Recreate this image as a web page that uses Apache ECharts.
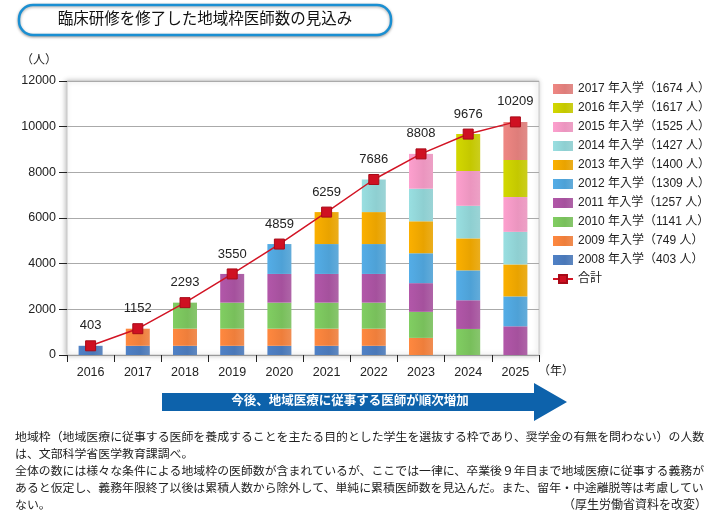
<!DOCTYPE html>
<html>
<head>
<meta charset="utf-8">
<script src="https://cdn.jsdelivr.net/npm/echarts@6/dist/echarts.min.js"></script>
<style>
  html, body { margin: 0; padding: 0; background: #fff; }
  #chart { width: 712px; height: 519px; }
</style>
</head>
<body>
<div id="chart"></div>
<script>
// 年（横軸）
var years = ['2016', '2017', '2018', '2019', '2020', '2021', '2022', '2023', '2024', '2025'];
// 入学年度ごとの人数（義務年限中のみ）
var c2008 = [403, 403, 403, 403, 403, 403, 403, '-', '-', '-'];
var c2009 = ['-', 749, 749, 749, 749, 749, 749, 749, '-', '-'];
var c2010 = ['-', '-', 1141, 1141, 1141, 1141, 1141, 1141, 1141, '-'];
var c2011 = ['-', '-', '-', 1257, 1257, 1257, 1257, 1257, 1257, 1257];
var c2012 = ['-', '-', '-', '-', 1309, 1309, 1309, 1309, 1309, 1309];
var c2013 = ['-', '-', '-', '-', '-', 1400, 1400, 1400, 1400, 1400];
var c2014 = ['-', '-', '-', '-', '-', '-', 1427, 1427, 1427, 1427];
var c2015 = ['-', '-', '-', '-', '-', '-', '-', 1525, 1525, 1525];
var c2016 = ['-', '-', '-', '-', '-', '-', '-', '-', 1617, 1617];
var c2017 = ['-', '-', '-', '-', '-', '-', '-', '-', '-', 1674];
// 合計
var totals = [403, 1152, 2293, 3550, 4859, 6259, 7686, 8808, 9676, 10209];
// 凡例名
var cohortNames = [
    '2008 年入学（403 人）', '2009 年入学（749 人）', '2010 年入学（1141 人）',
    '2011 年入学（1257 人）', '2012 年入学（1309 人）', '2013 年入学（1400 人）',
    '2014 年入学（1427 人）', '2015 年入学（1525 人）', '2016 年入学（1617 人）',
    '2017 年入学（1674 人）'
];
var totalName = '合計';

var cohortData = [c2008, c2009, c2010, c2011, c2012, c2013, c2014, c2015, c2016, c2017];
var cohortColors = ['#4a78b8', '#ee7e3b', '#78bf5b', '#a5519d', '#4ea1d6',
    '#e9a300', '#8ecfd1', '#eb95bf', '#c4c800', '#de7d7a'];

var FONT = "'Liberation Sans', 'Noto Sans CJK JP', sans-serif";

function barColor(c) {
    return new echarts.graphic.LinearGradient(0, 0, 1, 0, [
        { offset: 0, color: echarts.color.lift(c, -0.08) },
        { offset: 0.6, color: c },
        { offset: 1, color: echarts.color.lift(c, 0.12) }
    ]);
}

var series = [];
for (var i = 0; i < cohortData.length; i++) {
    series.push({
        name: cohortNames[i],
        type: 'bar',
        stack: 'total',
        barWidth: 24,
        itemStyle: { color: barColor(cohortColors[i]) },
        data: cohortData[i]
    });
}
series.push({
    name: totalName,
    type: 'line',
    symbol: 'rect',
    symbolSize: 10,
    z: 5,
    lineStyle: { color: '#d21424', width: 1.5 },
    itemStyle: { color: '#cf1022', borderColor: '#a80a18', borderWidth: 1 },
    label: {
        show: true,
        position: 'top',
        distance: 8,
        fontSize: 13,
        color: '#222',
        fontFamily: FONT
    },
    data: totals
});

var legendData = [];
for (var k = cohortNames.length - 1; k >= 0; k--) {
    legendData.push({ name: cohortNames[k], icon: 'rect' });
}
legendData.push({ name: totalName });

var noteLines = [
    '地域枠（地域医療に従事する医師を養成することを主たる目的とした学生を選抜する枠であり、奨学金の有無を問わない）の人数',
    'は、文部科学省医学教育課調べ。',
    '全体の数には様々な条件による地域枠の医師数が含まれているが、ここでは一律に、卒業後９年目まで地域医療に従事する義務が',
    'あると仮定し、義務年限終了以後は累積人数から除外して、単純に累積医師数を見込んだ。また、留年・中途離脱等は考慮してい',
    'ない。'
];

var graphics = [
    {
        type: 'rect',
        shape: { x: 19, y: 5, width: 372, height: 30, r: 14 },
        style: { fill: '#fff', stroke: '#1a8fd2', lineWidth: 2.5,
            shadowBlur: 3, shadowColor: 'rgba(0,0,0,0.35)', shadowOffsetY: 1 }
    },
    {
        type: 'text', x: 205, y: 20,
        style: { text: '臨床研修を修了した地域枠医師数の見込み', fontSize: 15.5,
            fontFamily: FONT, fill: '#111', align: 'center', verticalAlign: 'middle' }
    },
    {
        type: 'text', x: 39, y: 61,
        style: { text: '（人）', fontSize: 12, fontFamily: FONT, fill: '#222',
            align: 'center', verticalAlign: 'middle' }
    },
    {
        type: 'text', x: 556, y: 372,
        style: { text: '（年）', fontSize: 12, fontFamily: FONT, fill: '#222',
            align: 'center', verticalAlign: 'middle' }
    },
    {
        type: 'polygon',
        shape: { points: [[162, 393], [534, 393], [534, 383], [567, 402], [534, 421], [534, 411], [162, 411]] },
        style: { fill: '#0d62ab' }
    },
    {
        type: 'text', x: 350, y: 402,
        style: { text: '今後、地域医療に従事する医師が順次増加', fontSize: 12.5, fontWeight: 'bold',
            fontFamily: FONT, fill: '#fff', align: 'center', verticalAlign: 'middle' }
    },
    {
        type: 'text', x: 707, y: 506,
        style: { text: '（厚生労働省資料を改変）', fontSize: 12, fontFamily: FONT, fill: '#222',
            align: 'right', verticalAlign: 'middle' }
    }
];
for (var n = 0; n < noteLines.length; n++) {
    graphics.push({
        type: 'text', x: 15, y: 438 + n * 17,
        style: { text: noteLines[n], fontSize: 11.9, fontFamily: FONT, fill: '#222',
            align: 'left', verticalAlign: 'middle' }
    });
}

var myChart = echarts.init(document.getElementById('chart'));
var option = {
    animation: false,
    backgroundColor: '#fff',
    textStyle: { fontFamily: FONT },
    grid: {
        left: 67, right: 173, top: 81, bottom: 164,
        show: true,
        backgroundColor: '#fff',
        borderColor: '#c8c8c8',
        borderWidth: 1,
        shadowColor: 'rgba(0,0,0,0.25)',
        shadowBlur: 5,
        shadowOffsetX: -1
    },
    legend: {
        orient: 'vertical',
        left: 547,
        top: 78,
        itemWidth: 20,
        itemHeight: 10,
        itemGap: 7,
        textStyle: { fontSize: 12, color: '#222', fontFamily: FONT, lineHeight: 12 },
        data: legendData
    },
    xAxis: {
        type: 'category',
        data: years,
        axisLine: { lineStyle: { color: '#999', width: 1 } },
        axisTick: { show: true, length: 7, lineStyle: { color: '#222' } },
        axisLabel: { fontSize: 12.5, color: '#222', margin: 11 }
    },
    yAxis: {
        type: 'value',
        min: 0,
        max: 12000,
        interval: 2000,
        axisLine: { show: false },
        axisTick: { show: true, length: 8, lineStyle: { color: '#222' } },
        axisLabel: {
            fontSize: 12.5, color: '#222', margin: 11,
            formatter: function (value) { return String(value); }
        },
        splitLine: { lineStyle: { color: '#aaa', width: 1 } }
    },
    series: series,
    graphic: graphics
};
myChart.setOption(option);
</script>
</body>
</html>
